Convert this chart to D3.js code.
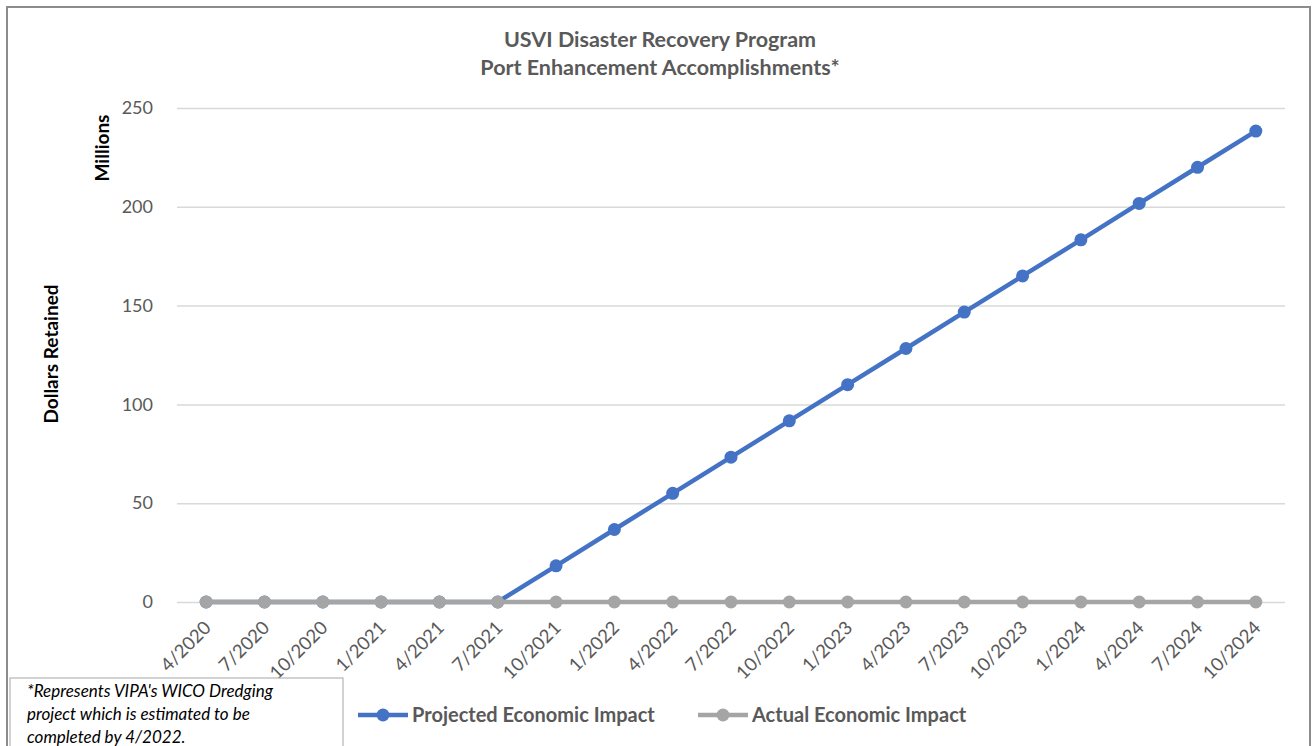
<!DOCTYPE html>
<html>
<head>
<meta charset="utf-8">
<script src="https://cdn.jsdelivr.net/npm/d3@7"></script>
<style>
  html, body { margin: 0; padding: 0; background: #fff; }
  svg { display: block; font-family: Lato, "Open Sans", sans-serif; }
</style>
</head>
<body>
<svg id="chart" width="1312" height="746"></svg>
<script>
// Quarterly reporting periods
const periods = ["4/2020","7/2020","10/2020","1/2021","4/2021","7/2021","10/2021","1/2022",
  "4/2022","7/2022","10/2022","1/2023","4/2023","7/2023","10/2023","1/2024","4/2024","7/2024","10/2024"];
// Dollars retained, millions
const projected = [0, 0, 0, 0, 0, 0, 18.3, 36.7, 55, 73.3, 91.7, 110, 128.3, 146.7, 165, 183.3, 201.7, 220, 238.3];
const actual = [0, 0, 0, 0, 0, 0, 0, 0, 0, 0, 0, 0, 0, 0, 0, 0, 0, 0, 0];
const yTicks = [0, 50, 100, 150, 200, 250];

const titleLines = ["USVI Disaster Recovery Program", "Port Enhancement Accomplishments*"];
const seriesNames = ["Projected Economic Impact", "Actual Economic Impact"];
const footnoteLines = ["*Represents VIPA's WICO Dredging", "project which is estimated to be", "completed by 4/2022."];

const svg = d3.select("#chart");
const plot = { left: 177, right: 1285, top: 108, bottom: 602 };

const x = d3.scalePoint().domain(periods).range([plot.left, plot.right]).padding(0.5);
const y = d3.scaleLinear().domain([0, 250]).range([plot.bottom, plot.top]);

// outer chart frame
svg.append("rect").attr("x", 7).attr("y", 7).attr("width", 1303).attr("height", 760)
  .attr("fill", "#fff").attr("stroke", "#8c8c8c").attr("stroke-width", 2);

// title
svg.append("g").selectAll("text").data(titleLines).join("text")
  .attr("x", 660).attr("y", (d, i) => 47 + i * 28)
  .attr("text-anchor", "middle").attr("font-size", 21.5).attr("font-weight", 700)
  .attr("fill", "#595959").text(d => d);

// y axis with gridlines
const yAxis = svg.append("g").attr("transform", `translate(${plot.left},0)`)
  .call(d3.axisLeft(y).tickValues(yTicks).tickSize(-(plot.right - plot.left)).tickPadding(24));
yAxis.select(".domain").remove();
yAxis.selectAll(".tick line").attr("stroke", "#d9d9d9").attr("stroke-width", 1.5);
yAxis.selectAll(".tick text").attr("fill", "#595959").attr("font-size", 18)
  .attr("font-family", "Lato, sans-serif");

// y axis titles
svg.append("text").attr("transform", "translate(58,354) rotate(-90)")
  .attr("text-anchor", "middle").attr("font-size", 19).attr("font-weight", 700)
  .attr("fill", "#000").text("Dollars Retained");
svg.append("text").attr("transform", "translate(109,148) rotate(-90)")
  .attr("text-anchor", "middle").attr("font-size", 19).attr("font-weight", 700)
  .attr("fill", "#000").text("Millions");

// x category labels, rotated
svg.append("g").selectAll("text").data(periods).join("text")
  .attr("transform", d => `translate(${x(d) + 6},${plot.bottom + 27}) rotate(-45)`)
  .attr("text-anchor", "end").attr("font-size", 18.5).attr("fill", "#595959")
  .text(d => d);

// series
const series = [
  { name: seriesNames[0], values: projected, color: "#4472c4" },
  { name: seriesNames[1], values: actual, color: "#a5a5a5" }
];
const line = d3.line().x((d, i) => x(periods[i])).y(d => y(d));

series.forEach(s => {
  const g = svg.append("g");
  g.append("path").datum(s.values).attr("d", line)
    .attr("fill", "none").attr("stroke", s.color).attr("stroke-width", 4.5)
    .attr("stroke-linejoin", "round");
  g.selectAll("circle").data(s.values).join("circle")
    .attr("cx", (d, i) => x(periods[i])).attr("cy", d => y(d)).attr("r", 6.5)
    .attr("fill", s.color);
});

// legend
const legendX = [358, 698];
const legend = svg.append("g").selectAll("g").data(series).join("g")
  .attr("transform", (d, i) => `translate(${legendX[i]},715)`);
legend.append("line").attr("x1", 0).attr("x2", 50).attr("y1", 0).attr("y2", 0)
  .attr("stroke", d => d.color).attr("stroke-width", 4.5);
legend.append("circle").attr("cx", 25).attr("cy", 0).attr("r", 6.5).attr("fill", d => d.color);
legend.append("text").attr("x", 54).attr("y", 7).attr("font-size", 20).attr("font-weight", 700)
  .attr("fill", "#595959").text(d => d.name);

// footnote box
svg.append("rect").attr("x", 10).attr("y", 678).attr("width", 333).attr("height", 80)
  .attr("fill", "#fff").attr("stroke", "#a6a6a6").attr("stroke-width", 1);
svg.append("g").selectAll("text").data(footnoteLines).join("text")
  .attr("x", 27).attr("y", (d, i) => 697 + i * 23)
  .attr("font-size", 17).attr("font-style", "italic").attr("fill", "#000")
  .text(d => d);
</script>
</body>
</html>
